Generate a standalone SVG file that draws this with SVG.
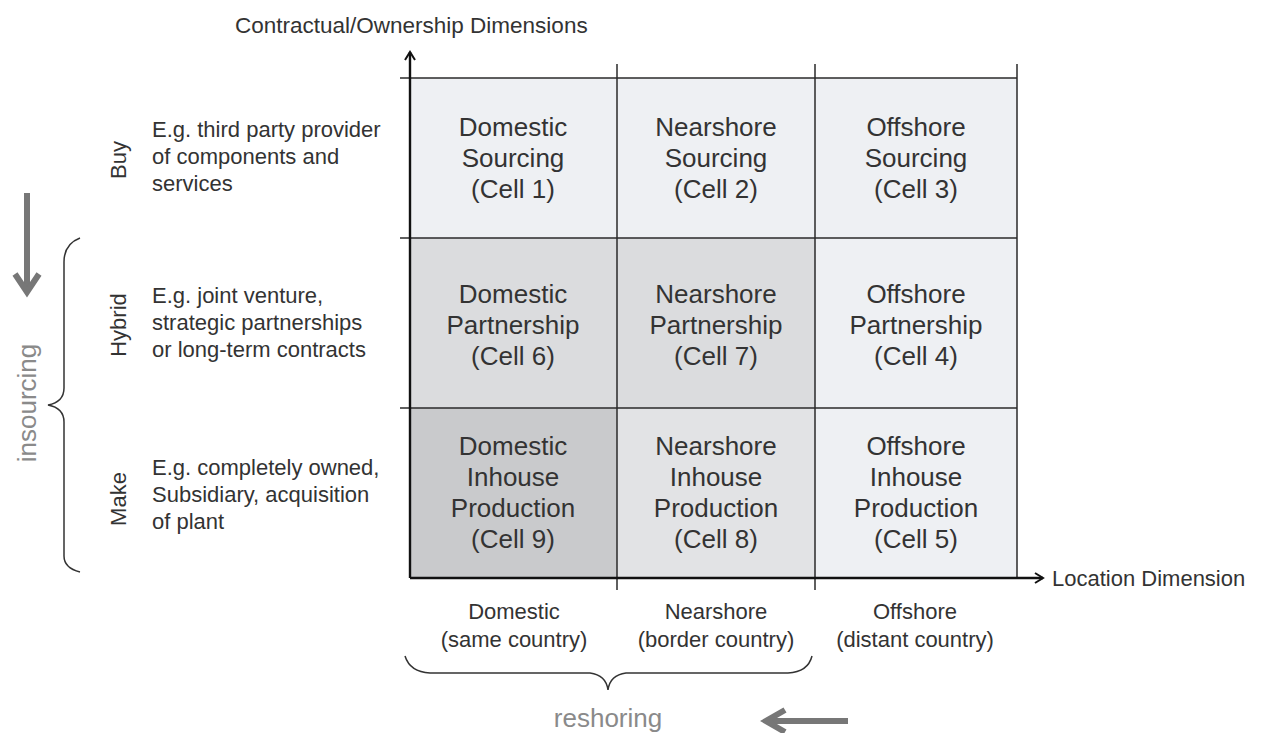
<svg xmlns="http://www.w3.org/2000/svg" width="1267" height="733" viewBox="0 0 1267 733">
<style>
.t{font-family:"Liberation Sans",Arial,sans-serif;fill:#333}
.c{font-size:26px;text-anchor:middle}
.d{font-size:22px}
.s{font-size:22px;text-anchor:middle}
.g{font-family:"Liberation Sans",Arial,sans-serif;fill:#8a8a8a;font-size:26px;text-anchor:middle}
.ln{stroke:#2a2a2a;stroke-width:1.5;fill:none}
.ax{stroke:#111;stroke-width:2.4;fill:none}
.br{stroke:#333;stroke-width:1.5;fill:none}
.ga{stroke:#777;stroke-width:6;fill:none;stroke-linejoin:miter}
</style>
<defs>
<marker id="ah" viewBox="0 0 12 12" refX="10" refY="6" markerWidth="12" markerHeight="12" orient="auto" markerUnits="userSpaceOnUse">
<path d="M2,1 L10,6 L2,11" fill="none" stroke="#111" stroke-width="2"/>
</marker>
</defs>
<rect width="1267" height="733" fill="#fff"/>
<g id="cells">
<rect x="410" y="78" width="207" height="160" fill="#eef0f3"/>
<rect x="617" y="78" width="198" height="160" fill="#eef0f3"/>
<rect x="815" y="78" width="202" height="160" fill="#eef0f3"/>
<rect x="410" y="238" width="207" height="170" fill="#dbdcde"/>
<rect x="617" y="238" width="198" height="170" fill="#dbdcde"/>
<rect x="815" y="238" width="202" height="170" fill="#eef0f3"/>
<rect x="410" y="408" width="207" height="170" fill="#c9cacc"/>
<rect x="617" y="408" width="198" height="170" fill="#e2e3e5"/>
<rect x="815" y="408" width="202" height="170" fill="#eef0f3"/>
</g>
<g id="connectors">
<line class="ln" x1="400" y1="78" x2="1017" y2="78"/>
<line class="ln" x1="400" y1="238" x2="1017" y2="238"/>
<line class="ln" x1="400" y1="408" x2="1017" y2="408"/>
<line class="ln" x1="617" y1="64" x2="617" y2="590"/>
<line class="ln" x1="815" y1="64" x2="815" y2="590"/>
<line class="ln" x1="1017" y1="64" x2="1017" y2="578"/>
<line class="ax" x1="410" y1="578" x2="410" y2="52" marker-end="url(#ah)"/>
<line class="ax" x1="410" y1="578" x2="1043" y2="578" marker-end="url(#ah)"/>
<line class="ga" x1="27" y1="193" x2="27" y2="290"/>
<path class="ga" d="M15,274 L27,292 L39,274"/>
<line class="ga" x1="848" y1="721" x2="770" y2="721"/>
<path class="ga" d="M785,710 L766,721 L785,732"/>
<path class="br" d="M80,238 Q64,244 64,262 L64,388 Q64,402 48,405 Q64,408 64,422 L64,556 Q64,568 80,572"/>
<path class="br" d="M405,656 Q410,672 430,673 L590,673 Q606,675 608,690 Q610,675 626,673 L788,673 Q808,672 812,656"/>
</g>
<g id="axis-labels">
<text class="t" style="font-size:22.5px" x="235" y="33">Contractual/Ownership Dimensions</text>
<text class="t d" x="1052" y="586">Location Dimension</text>
</g>
<g id="cell1"><text class="t c" x="513" y="136">Domestic</text><text class="t c" x="513" y="167">Sourcing</text><text class="t c" x="513" y="198">(Cell 1)</text></g>
<g id="cell2"><text class="t c" x="716" y="136">Nearshore</text><text class="t c" x="716" y="167">Sourcing</text><text class="t c" x="716" y="198">(Cell 2)</text></g>
<g id="cell3"><text class="t c" x="916" y="136">Offshore</text><text class="t c" x="916" y="167">Sourcing</text><text class="t c" x="916" y="198">(Cell 3)</text></g>
<g id="cell6"><text class="t c" x="513" y="303">Domestic</text><text class="t c" x="513" y="334">Partnership</text><text class="t c" x="513" y="365">(Cell 6)</text></g>
<g id="cell7"><text class="t c" x="716" y="303">Nearshore</text><text class="t c" x="716" y="334">Partnership</text><text class="t c" x="716" y="365">(Cell 7)</text></g>
<g id="cell4"><text class="t c" x="916" y="303">Offshore</text><text class="t c" x="916" y="334">Partnership</text><text class="t c" x="916" y="365">(Cell 4)</text></g>
<g id="cell9"><text class="t c" x="513" y="455">Domestic</text><text class="t c" x="513" y="486">Inhouse</text><text class="t c" x="513" y="517">Production</text><text class="t c" x="513" y="548">(Cell 9)</text></g>
<g id="cell8"><text class="t c" x="716" y="455">Nearshore</text><text class="t c" x="716" y="486">Inhouse</text><text class="t c" x="716" y="517">Production</text><text class="t c" x="716" y="548">(Cell 8)</text></g>
<g id="cell5"><text class="t c" x="916" y="455">Offshore</text><text class="t c" x="916" y="486">Inhouse</text><text class="t c" x="916" y="517">Production</text><text class="t c" x="916" y="548">(Cell 5)</text></g>
<g id="buy">
<text class="t d" transform="translate(126,160) rotate(-90)" text-anchor="middle">Buy</text>
<text class="t d" x="152" y="137">E.g. third party provider</text>
<text class="t d" x="152" y="164">of components and</text>
<text class="t d" x="152" y="191">services</text>
</g>
<g id="hybrid">
<text class="t d" transform="translate(126,325) rotate(-90)" text-anchor="middle">Hybrid</text>
<text class="t d" x="152" y="303">E.g. joint venture,</text>
<text class="t d" x="152" y="330">strategic partnerships</text>
<text class="t d" x="152" y="357">or long-term contracts</text>
</g>
<g id="make">
<text class="t d" transform="translate(126,499) rotate(-90)" text-anchor="middle">Make</text>
<text class="t d" x="152" y="475">E.g. completely owned,</text>
<text class="t d" x="152" y="502">Subsidiary, acquisition</text>
<text class="t d" x="152" y="529">of plant</text>
</g>
<g id="insourcing"><text class="g" transform="translate(36,403) rotate(-90)">insourcing</text></g>
<g id="columns">
<text class="t s" x="514" y="619">Domestic</text><text class="t s" x="514" y="647">(same country)</text>
<text class="t s" x="716" y="619">Nearshore</text><text class="t s" x="716" y="647">(border country)</text>
<text class="t s" x="915" y="619">Offshore</text><text class="t s" x="915" y="647">(distant country)</text>
</g>
<g id="reshoring"><text class="g" x="608" y="727">reshoring</text></g>
</svg>
